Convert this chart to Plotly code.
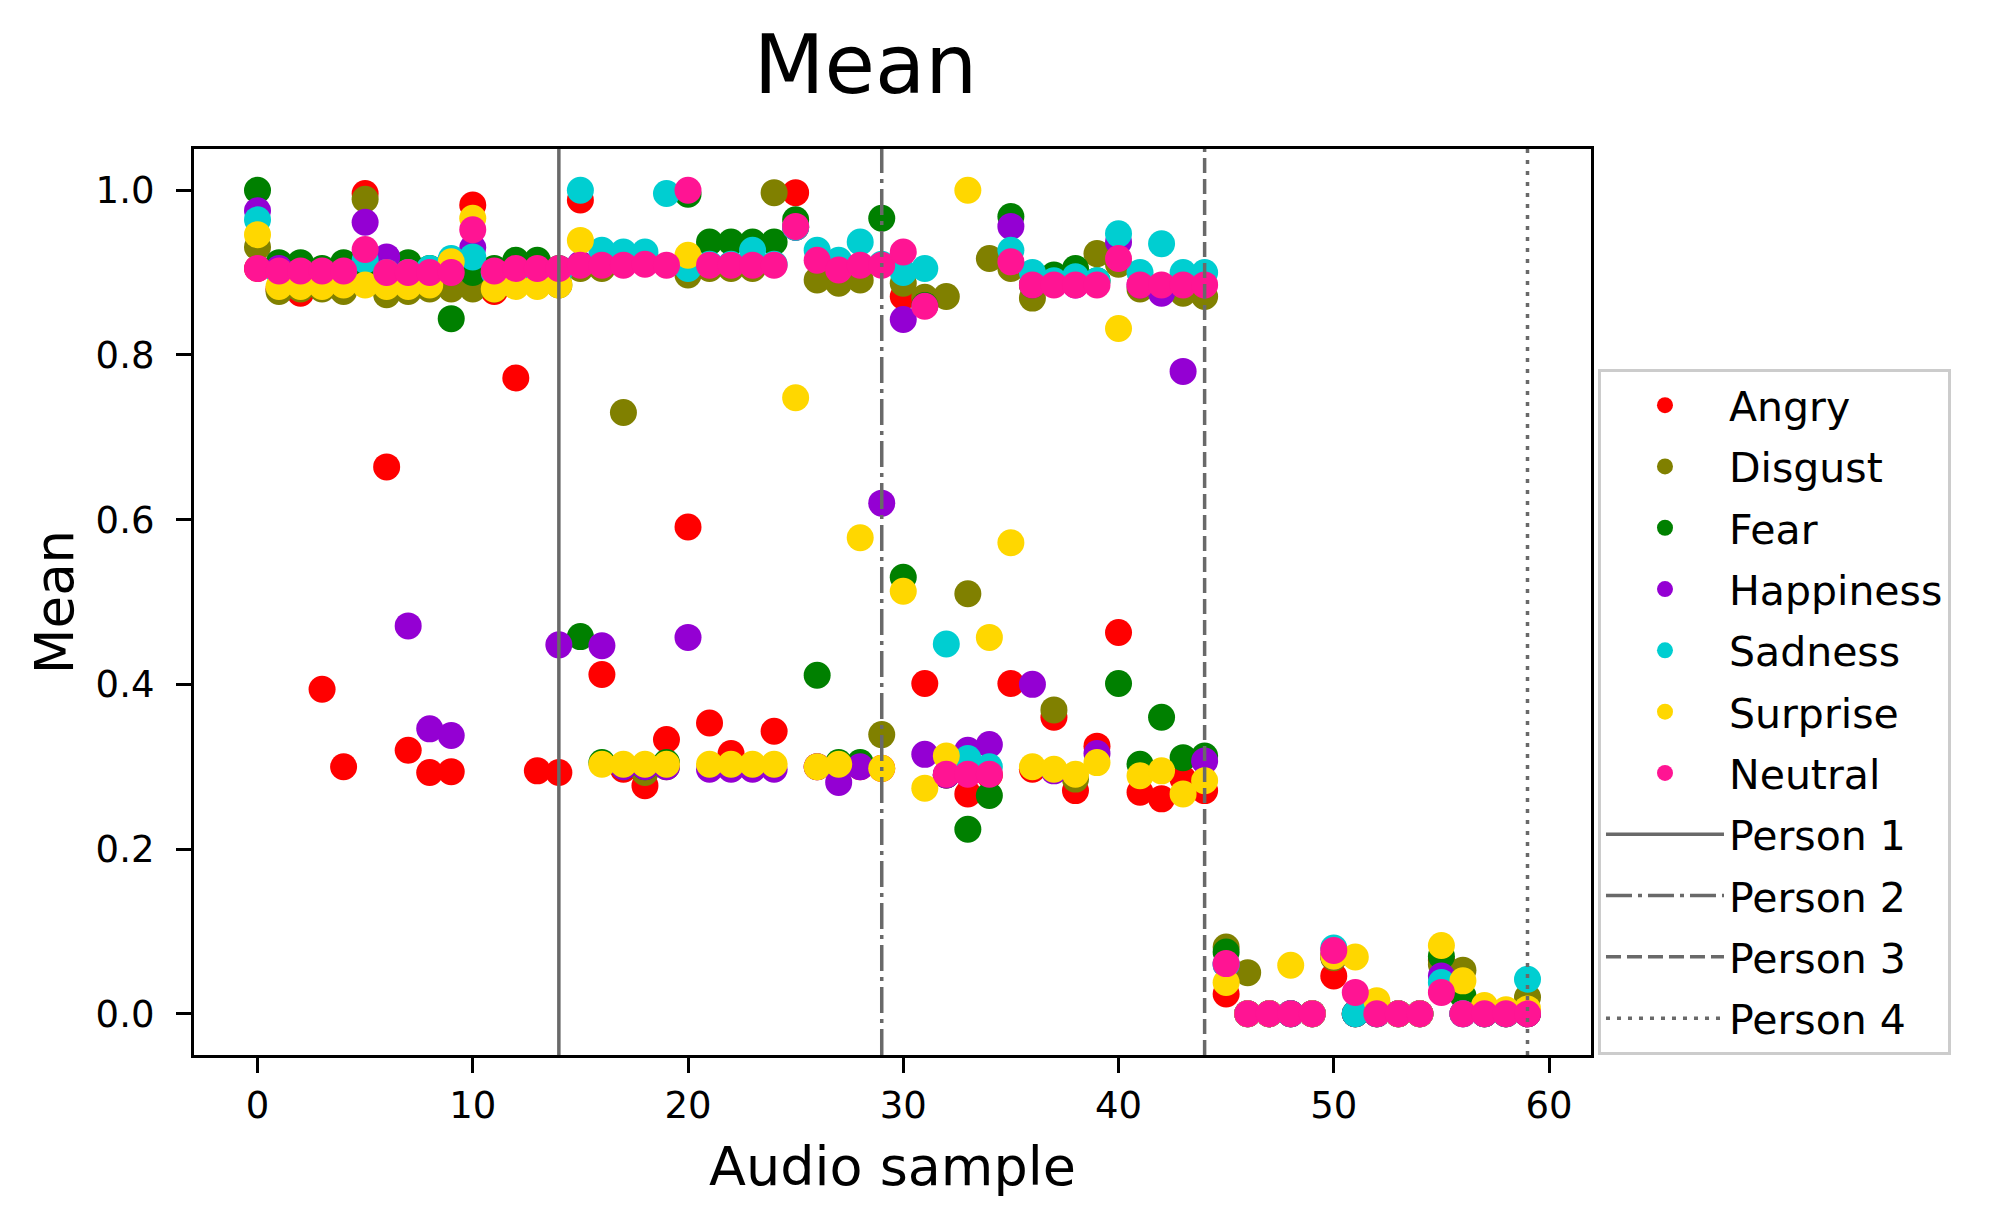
import plotly.graph_objects as go

# Audio sample index (x) and mean value per emotion
samples = list(range(60))

angry = [0.905, 0.880, 0.875, 0.394, 0.300, 0.996, 0.664, 0.320, 0.293, 0.294,
         0.982, 0.877, 0.772, 0.295, 0.293, 0.988, 0.412, 0.297, 0.277, 0.333,
         0.591, 0.353, 0.316, 0.300, 0.343, 0.997, 0.300, 0.300, 0.300, 0.298,
         0.871, 0.401, 0.290, 0.267, 0.290, 0.401, 0.297, 0.360, 0.271, 0.325,
         0.463, 0.269, 0.261, 0.285, 0.271, 0.024, 0.000, 0.000, 0.000, 0.000,
         0.046, 0.000, 0.000, 0.000, 0.000, 0.065, 0.000, 0.000, 0.000, 0.000]

disgust = [0.931, 0.877, 0.880, 0.880, 0.877, 0.989, 0.873, 0.877, 0.880, 0.880,
           0.880, 0.880, 0.885, 0.885, 0.885, 0.905, 0.905, 0.730, 0.293, 0.300,
           0.897, 0.905, 0.905, 0.905, 0.997, 0.955, 0.891, 0.887, 0.891, 0.339,
           0.887, 0.870, 0.871, 0.510, 0.917, 0.905, 0.869, 0.369, 0.285, 0.923,
           0.910, 0.880, 0.880, 0.875, 0.871, 0.081, 0.050, 0.000, 0.000, 0.000,
           0.068, 0.000, 0.000, 0.000, 0.000, 0.060, 0.053, 0.000, 0.000, 0.020]

fear = [1.000, 0.912, 0.912, 0.905, 0.912, 0.910, 0.910, 0.912, 0.905, 0.844,
        0.900, 0.905, 0.915, 0.915, 0.905, 0.458, 0.305, 0.300, 0.300, 0.305,
        0.995, 0.937, 0.937, 0.937, 0.937, 0.964, 0.411, 0.305, 0.305, 0.966,
        0.530, 0.860, 0.290, 0.224, 0.265, 0.968, 0.885, 0.897, 0.905, 0.890,
        0.401, 0.303, 0.360, 0.311, 0.313, 0.075, 0.000, 0.000, 0.000, 0.000,
        0.070, 0.000, 0.000, 0.000, 0.000, 0.070, 0.022, 0.000, 0.000, 0.000]

happiness = [0.975, 0.905, 0.900, 0.900, 0.900, 0.961, 0.919, 0.471, 0.346, 0.338,
             0.930, 0.900, 0.900, 0.900, 0.448, 0.910, 0.447, 0.300, 0.300, 0.300,
             0.457, 0.297, 0.297, 0.297, 0.297, 0.955, 0.300, 0.281, 0.300, 0.620,
             0.843, 0.315, 0.290, 0.320, 0.327, 0.956, 0.400, 0.295, 0.885, 0.316,
             0.937, 0.885, 0.875, 0.780, 0.307, 0.060, 0.000, 0.000, 0.000, 0.000,
             0.070, 0.000, 0.000, 0.000, 0.000, 0.046, 0.000, 0.000, 0.000, 0.000]

sadness = [0.964, 0.900, 0.900, 0.900, 0.900, 0.915, 0.900, 0.900, 0.905, 0.917,
           0.919, 0.900, 0.900, 0.900, 0.900, 1.000, 0.927, 0.925, 0.925, 0.996,
           0.905, 0.910, 0.910, 0.927, 0.910, 0.955, 0.927, 0.915, 0.937, 0.910,
           0.900, 0.905, 0.449, 0.310, 0.300, 0.927, 0.900, 0.890, 0.895, 0.890,
           0.947, 0.900, 0.935, 0.900, 0.900, 0.060, 0.000, 0.000, 0.000, 0.000,
           0.080, 0.000, 0.000, 0.000, 0.000, 0.038, 0.000, 0.000, 0.000, 0.042]

surprise = [0.946, 0.883, 0.883, 0.883, 0.885, 0.885, 0.883, 0.883, 0.885, 0.913,
            0.966, 0.880, 0.883, 0.883, 0.885, 0.939, 0.303, 0.303, 0.303, 0.303,
            0.921, 0.303, 0.303, 0.303, 0.303, 0.748, 0.300, 0.303, 0.578, 0.298,
            0.513, 0.274, 0.313, 1.000, 0.457, 0.572, 0.300, 0.297, 0.291, 0.305,
            0.832, 0.289, 0.295, 0.267, 0.283, 0.038, 0.000, 0.000, 0.059, 0.000,
            0.070, 0.069, 0.016, 0.000, 0.000, 0.083, 0.040, 0.010, 0.005, 0.006]

neutral = [0.905, 0.902, 0.902, 0.902, 0.902, 0.928, 0.900, 0.900, 0.900, 0.900,
           0.952, 0.902, 0.905, 0.905, 0.905, 0.909, 0.909, 0.909, 0.910, 0.909,
           1.000, 0.909, 0.909, 0.909, 0.909, 0.956, 0.915, 0.903, 0.909, 0.909,
           0.925, 0.859, 0.291, 0.291, 0.291, 0.913, 0.885, 0.885, 0.885, 0.885,
           0.917, 0.885, 0.885, 0.885, 0.885, 0.061, 0.000, 0.000, 0.000, 0.000,
           0.077, 0.026, 0.000, 0.000, 0.000, 0.026, 0.000, 0.000, 0.000, 0.000]

emotions = ['Angry', 'Disgust', 'Fear', 'Happiness', 'Sadness', 'Surprise', 'Neutral']
series = [angry, disgust, fear, happiness, sadness, surprise, neutral]
colors = ['red', 'olive', 'green', 'darkviolet', 'darkturquoise', 'gold', 'deeppink']

# last sample of each speaker
persons = ['Person 1', 'Person 2', 'Person 3', 'Person 4']
person_ends = [14, 29, 44, 59]
person_dash = ['solid', '26px,6px,4px,6px', '15px,6px', '4px,7px']

fig = go.Figure()

for name, vals, col in zip(emotions, series, colors):
    fig.add_trace(go.Scatter(
        x=samples,
        y=vals,
        mode='markers',
        name=name,
        legendgroup=name,
        marker=dict(color=col, size=27, line=dict(width=0)),
    ))

for name, xe, dash in zip(persons, person_ends, person_dash):
    fig.add_vline(x=xe, line=dict(color='dimgray', width=3.5, dash=dash),
                  name=name, showlegend=True, legendgroup=name, layer='above')

axis_common = dict(
    showline=True, linecolor='black', linewidth=3.3, mirror=True,
    ticks='outside', ticklen=15, tickwidth=3.3, tickcolor='black',
    showgrid=False, zeroline=False,
    tickfont=dict(size=37, color='black'),
)

# page body adds ~8px on each side, so the figure is a bit smaller than the window
fig.update_layout(
    width=1976,
    height=1207,
    margin=dict(l=186, r=393, t=141, b=160),
    paper_bgcolor='white',
    plot_bgcolor='white',
    font=dict(family='DejaVu Sans', color='black'),
    title=dict(text='Mean', x=0.434, xanchor='center', y=0.953, yanchor='middle',
               font=dict(size=82, color='black')),
    legend=dict(
        x=1.005, xanchor='left', y=0.0, yanchor='bottom',
        font=dict(size=41, color='black'),
        bordercolor='#cccccc', borderwidth=3,
        bgcolor='white',
        tracegroupgap=5,
        itemwidth=118,
    ),
)

fig.update_xaxes(range=[-2.95, 61.95], tickvals=[0, 10, 20, 30, 40, 50, 60],
                 title=dict(text='Audio sample', font=dict(size=54, color='black'), standoff=22),
                 **axis_common)
fig.update_yaxes(range=[-0.05, 1.05], tickvals=[0, 0.2, 0.4, 0.6, 0.8, 1.0],
                 tickformat='.1f', ticklabelstandoff=14,
                 title=dict(text='Mean', font=dict(size=53, color='black'), standoff=6),
                 **axis_common)

fig.write_html('out.html')
